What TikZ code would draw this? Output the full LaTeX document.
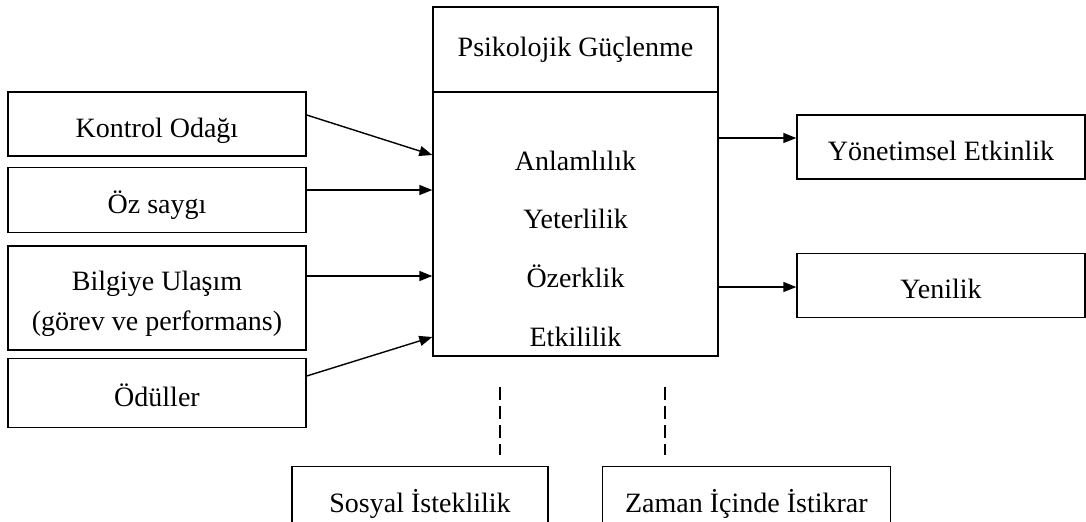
\documentclass[tikz,border=0pt]{standalone}
\usepackage{fontspec}
\setmainfont{Liberation Serif}
\usetikzlibrary{positioning,arrows.meta}

\begin{document}
\begin{tikzpicture}[x=0.5pt, y=-0.5pt,
    every node/.style = {font=\fontsize{14}{20}\selectfont},
    box/.style = {draw, line width=0.7pt, inner sep=0pt, text height=17pt, text depth=3.5pt},
    item/.style = {inner sep=0pt, text height=10pt, text depth=3.5pt},
    arr/.style = {-{Triangle[length=6.5pt,width=5pt]}, line width=0.7pt},
    dash line/.style = {line width=0.7pt, dash pattern=on 6.5pt off 3pt}]
    \useasboundingbox (0,0) rectangle (1086,521);
    \clip (0,0) rectangle (1086,521);
    % left
    \node[box, minimum width=149pt, minimum height=32pt] (kon) at (157,124) {Kontrol Odağı};
    \node[box, minimum width=149pt, minimum height=32.5pt] (oz) [below=5pt of kon] {Öz saygı};
    \node[box, minimum width=149pt, minimum height=52pt, align=center, text height=, text depth=] (bil) [below=6pt of oz] {\rule{0pt}{16pt}Bilgiye Ulaşım\\(görev ve performans)};
    \node[box, minimum width=149pt, minimum height=34.5pt] (odu) [below=3.5pt of bil] {Ödüller};
    % center
    \node[draw, line width=0.7pt, minimum width=142.5pt, minimum height=42.5pt] (head) at (575.5,49.5) {Psikolojik Güçlenme};
    \node[draw, line width=0.7pt, minimum width=142.5pt, minimum height=132pt] (body) at (575.5,224) {};
    \node[item, anchor=base] (anl) at (575.5,170) {Anlamlılık};
    \node[item] (yet) [below=15.5pt of anl] {Yeterlilik};
    \node[item] (oze) [below=15.5pt of yet] {Özerklik};
    \node[item] (etk) [below=15.5pt of oze] {Etkililik};
    % right
    \node[box, minimum width=144pt, minimum height=32pt] (yon) at (941,147) {Yönetimsel Etkinlik};
    \node[box, minimum width=144pt, minimum height=32pt] (yen) [below=36.5pt of yon] {Yenilik};
    % bottom
    \node[box, minimum width=128pt, minimum height=32.5pt, anchor=north] (sos) at (420,466) {Sosyal İsteklilik};
    \node[box, minimum width=144pt, minimum height=32.5pt] (zam) [right=26.5pt of sos] {Zaman İçinde İstikrar};
    \coordinate (d1) at (500,387);
    \coordinate (d2) at (665,387);
    \coordinate (d1e) at (500,455);
    \coordinate (d2e) at (665,455);
    \draw[arr] (kon.east |- 0,115) -- (body.west |- 0,155);
    \draw[arr] (oz.east |- 0,190) -- (body.west |- 0,190);
    \draw[arr] (bil.east |- 0,276) -- (body.west |- 0,276);
    \draw[arr] (odu.east |- 0,376) -- (body.west |- 0,337);
    \draw[arr] (body.east |- 0,138) -- (yon.west |- 0,138);
    \draw[arr] (body.east |- 0,287) -- (yen.west |- 0,287);
    \draw[dash line] (d1) -- (d1e);
    \draw[dash line] (d2) -- (d2e);
\end{tikzpicture}
\end{document}
